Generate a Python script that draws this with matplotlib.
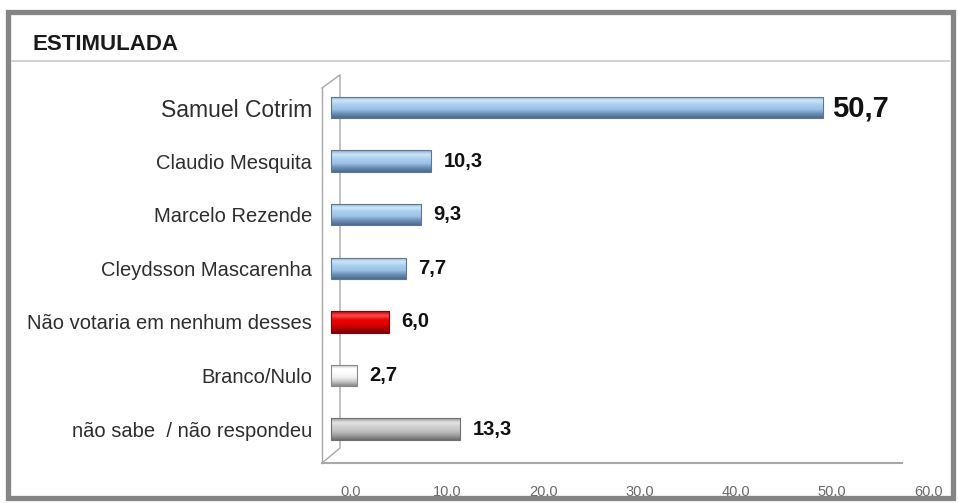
import matplotlib
matplotlib.use('Agg')
import matplotlib.pyplot as plt
import numpy as np
from matplotlib.colors import LinearSegmentedColormap
from matplotlib.patches import Rectangle
from matplotlib.lines import Line2D

# dados da pesquisa estimulada
categorias = ['Samuel Cotrim', 'Claudio Mesquita', 'Marcelo Rezende', 'Cleydsson Mascarenha',
              'Não votaria em nenhum desses', 'Branco/Nulo', 'não sabe  / não respondeu']
valores = [50.7, 10.3, 9.3, 7.7, 6.0, 2.7, 13.3]
rotulos = ['50,7', '10,3', '9,3', '7,7', '6,0', '2,7', '13,3']
ticks = [0, 10, 20, 30, 40, 50, 60]
tick_labels = ['0,0', '10,0', '20,0', '30,0', '40,0', '50,0', '60,0']

# gradiente (topo -> base) de cada barra
azul = ['#8ea8c6', '#cfe5f8', '#a7cdef', '#9cc3e8', '#6d8fb6', '#4c6a8f']
vermelho = ['#b00000', '#ff5050', '#ee0000', '#e00000', '#b00000', '#700000']
branco = ['#b0b0b0', '#ffffff', '#fbfbfb', '#f2f2f2', '#c8c8c8', '#8a8a8a']
cinza = ['#9a9a9a', '#e4e4e4', '#cfcfcf', '#c2c2c2', '#9c9c9c', '#6e6e6e']
cores = [azul, azul, azul, azul, vermelho, branco, cinza]
bordas = ['#5a7698', '#5a7698', '#5a7698', '#5a7698', '#8a0000', '#8a8a8a', '#707070']

plt.rcParams['font.family'] = ['Liberation Sans', 'DejaVu Sans']

fig = plt.figure(figsize=(9.58, 5.03), dpi=100)
fig.patch.set_facecolor('white')

# moldura e cabecalho
fig.add_artist(Rectangle((8/958, 1-498/503), 945/958, 486/503, transform=fig.transFigure,
                         fill=False, edgecolor='#858585', lw=3.8))
fig.add_artist(Line2D([12/958, 949/958], [1-61/503, 1-61/503], transform=fig.transFigure,
                      color='#d2d2d2', lw=1.4))
fig.text(33/958, 1-45/503, 'ESTIMULADA', fontsize=16, fontweight='bold',
         color='#1a1a1a', va='center', ha='left')

# eixo vai ate 945 px para caber o rotulo 60,0; o piso termina em 902 px
ax = fig.add_axes([322/958, 1-463/503, 623/958, 375/503])
ys = np.arange(len(valores))
bars = ax.barh(ys, valores, height=0.40, color='none', edgecolor=bordas, lw=0.8, zorder=3)
grad = np.linspace(0, 1, 64).reshape(-1, 1)
for bar, cor in zip(bars, cores):
    cmap = LinearSegmentedColormap.from_list('g', cor)
    x0, y0 = bar.get_x(), bar.get_y()
    w, h = bar.get_width(), bar.get_height()
    im = ax.imshow(grad, cmap=cmap, aspect='auto', extent=(x0, x0 + w, y0 + h, y0),
                   origin='upper', zorder=2, interpolation='bilinear')
    im.set_clip_path(bar)

for i, (v, r) in enumerate(zip(valores, rotulos)):
    if i == 0:
        ax.annotate(r, xy=(v, i), xytext=(7, -1), textcoords='offset points', va='center',
                    fontsize=21, fontweight='bold', color='#111111')
    else:
        ax.annotate(r, xy=(v, i), xytext=(9, 0), textcoords='offset points', va='center',
                    fontsize=14.5, fontweight='bold', color='#111111')

ax.set_xlim(-0.93, 63.3)
ax.set_ylim(6.63, -0.364)
ax.set_xticks([])
ax.set_yticks(ys, categorias)
ax.tick_params(axis='y', length=0, pad=7, labelsize=14.5, labelcolor='#2e2e2e')
ax.get_yticklabels()[0].set_fontsize(16.5)

for s in ['top', 'right', 'bottom']:
    ax.spines[s].set_visible(False)
ax.spines['left'].set_color('#a8a8a8')
ax.spines['left'].set_linewidth(1.0)

# piso e parede lateral 3D
ax.add_line(Line2D([0, 580/623], [0, 0], transform=ax.transAxes,
                   color='#a8a8a8', lw=1.5, clip_on=False, zorder=1))
ax.add_line(Line2D([0, 18/623, 18/623, 0.0], [1.0, 1.035, 0.04, 0.0], transform=ax.transAxes,
                   color='#a8a8a8', lw=1.0, clip_on=False, zorder=1))

# eixo de valores (rotulos deslocados como no grafico 3D)
sec = ax.secondary_xaxis('bottom', functions=(lambda x: (9.7 * x - 20) / 9.62,
                                              lambda v: (20 + 9.62 * v) / 9.7))
sec.set_xticks(ticks, tick_labels)
sec.spines['bottom'].set_visible(False)
sec.tick_params(length=0, pad=16, labelsize=10.5, labelcolor='#6a6a6a')

fig.savefig('out.png', dpi=100)
